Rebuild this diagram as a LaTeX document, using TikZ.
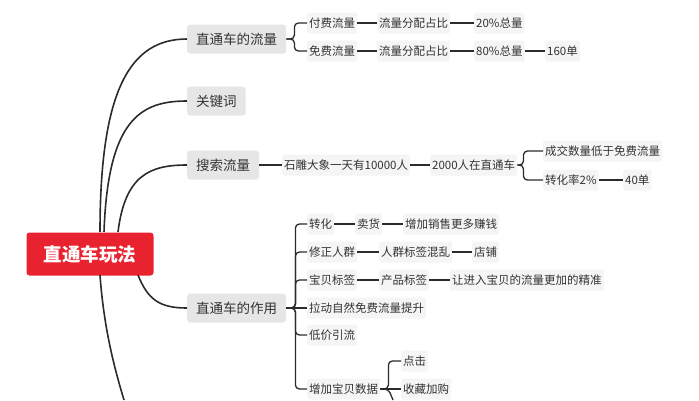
\documentclass[tikz,border=0pt]{standalone}
\usepackage{fontspec}
\setmainfont{Noto Sans CJK SC}
\definecolor{rootred}{HTML}{E8232F}
\definecolor{lvone}{HTML}{E6E6E6}
\definecolor{lvtwo}{HTML}{F5F5F5}
\definecolor{linkc}{HTML}{2B2B2B}
\begin{document}
\begin{tikzpicture}[x=1pt, y=-1pt,
    rootbox/.style={fill=rootred, rounded corners=3pt, text=white, font=\fontsize{18.5}{22}\selectfont\bfseries, minimum width=127pt, minimum height=43pt},
    topic/.style={fill=lvone, rounded corners=3pt, anchor=west, font=\fontsize{13.5}{16}\selectfont, text=black!80, minimum height=29pt, inner xsep=9pt},
    sub/.style={fill=lvtwo, rounded corners=2pt, anchor=west, font=\fontsize{11.5}{14}\selectfont, text=black!80, minimum height=21pt, inner xsep=2pt},
    link/.style={draw=linkc, line width=1.6pt},
    tie/.style={draw=linkc, line width=1.3pt, rounded corners=4pt}]
    \useasboundingbox (0,0) rectangle (699,400);

    % centre and main topics
    \node[rootbox] (root) at (90,254) {直通车玩法};
    \node[topic] (flow) at (187,39) {直通车的流量};
    \node[topic] (kw) at (187,101) {关键词};
    \node[topic] (search) at (187,165) {搜索流量};
    \node[topic] (use) at (187,308) {直通车的作用};
    \coordinate (more) at (124,400);

    \draw[link] (100,232) .. controls (100,90) and (130,39) .. (flow.west);
    \draw[link] (104,232) .. controls (108,120) and (140,101) .. (kw.west);
    \draw[link] (118,232) .. controls (125,175) and (150,165) .. (search.west);
    \draw[link] (138,275) .. controls (148,300) and (160,308) .. (use.west);
    \draw[link] (100,275) .. controls (104,330) and (115,370) .. (more);

    % traffic
    \node[sub] (paid) at (307,23) {付费流量};
    \node[sub] (free) at (307,51) {免费流量};
    \node[sub] (share1) at (377,23) {流量分配占比};
    \node[sub] (share2) at (377,51) {流量分配占比};
    \node[sub] (pct1) at (474,23) {20\%总量};
    \node[sub] (pct2) at (474,51) {80\%总量};
    \node[sub] (orders) at (545,51) {160单};

    \draw[tie] (flow.east) -- ++(8,0) |- (paid.west);
    \draw[tie] (flow.east) -- ++(8,0) |- (free.west);
    \draw[tie] (paid) -- (share1);
    \draw[tie] (free) -- (share2);
    \draw[tie] (share1) -- (pct1);
    \draw[tie] (share2) -- (pct2);
    \draw[tie] (pct2) -- (orders);

    % search
    \node[sub] (daily) at (282,165) {石雕大象一天有10000人};
    \node[sub] (onecar) at (430,165) {2000人在直通车};
    \node[sub] (deal) at (543,151) {成交数量低于免费流量};
    \node[sub] (rate) at (543,180) {转化率2\%};
    \node[sub] (forty) at (623,180) {40单};

    \draw[tie] (search) -- (daily);
    \draw[tie] (daily) -- (onecar);
    \draw[tie] (onecar.east) -- ++(6,0) |- (deal.west);
    \draw[tie] (onecar.east) -- ++(6,0) |- (rate.west);
    \draw[tie] (rate) -- (forty);

    % uses
    \node[sub] (conv) at (307,224) {转化};
    \node[sub] (sell) at (355,224) {卖货};
    \node[sub] (earn) at (403,224) {增加销售更多赚钱};
    \node[sub] (crowd) at (307,252) {修正人群};
    \node[sub] (tags) at (379,252) {人群标签混乱};
    \node[sub] (shop) at (472,252) {店铺};
    \node[sub] (label) at (307,280) {宝贝标签};
    \node[sub] (prod) at (379,280) {产品标签};
    \node[sub] (exact) at (450,280) {让进入宝贝的流量更加的精准};
    \node[sub] (natural) at (307,308) {拉动自然免费流量提升};
    \node[sub] (cheap) at (307,335) {低价引流};
    \node[sub] (data) at (307,389) {增加宝贝数据};
    \node[sub] (click) at (401,361) {点击};
    \node[sub] (fav) at (401,389) {收藏加购};
    \coordinate (dataend) at (393,400);

    \draw[tie] (use.east) -- ++(9,0) |- (conv.west);
    \draw[tie] (use.east) -- ++(9,0) |- (crowd.west);
    \draw[tie] (use.east) -- ++(9,0) |- (label.west);
    \draw[tie] (use.east) -- (natural.west);
    \draw[tie] (use.east) -- ++(9,0) |- (cheap.west);
    \draw[tie] (use.east) -- ++(9,0) |- (data.west);
    \draw[tie] (conv) -- (sell);
    \draw[tie] (sell) -- (earn);
    \draw[tie] (crowd) -- (tags);
    \draw[tie] (tags) -- (shop);
    \draw[tie] (label) -- (prod);
    \draw[tie] (prod) -- (exact);
    \draw[tie] (data.east) -- ++(8,0) |- (click.west);
    \draw[tie] (data.east) -- (fav.west);
    \draw[tie] (data.east) -- ++(8,0) -- (dataend);
\end{tikzpicture}
\end{document}
